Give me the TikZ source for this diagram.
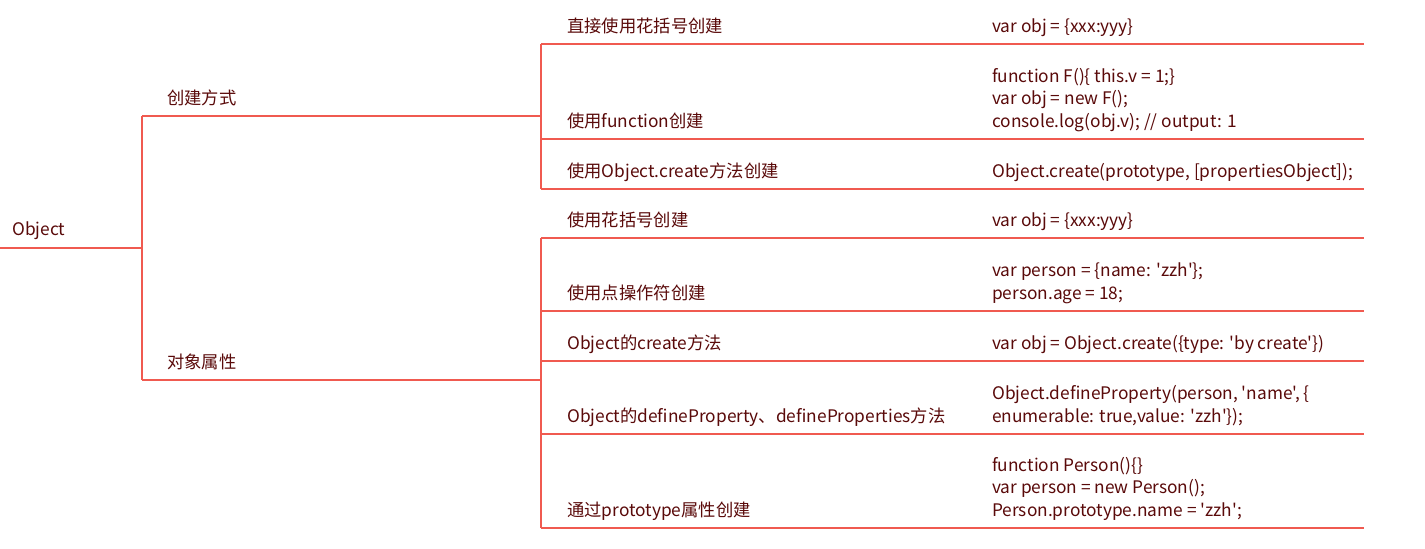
\documentclass[tikz,border=0pt]{standalone}
\usepackage{fontspec}
\setmainfont{Noto Sans CJK SC}[Ligatures=TeXOff]
\definecolor{linec}{HTML}{F05A50}
\definecolor{txtc}{HTML}{5A0A0A}
\begin{document}
\begin{tikzpicture}[x=1pt,y=-1pt,
  lbl/.style={anchor=base west,inner sep=0pt,text=txtc,font=\fontsize{17.3}{22.5}\selectfont},
  conn/.style={draw=linec,line width=1.2pt}]
\useasboundingbox[fill=white] (0,0) rectangle (1425,549);
% root
\node[lbl] (obj) at (12,235) {Object};
\coordinate (r0) at (0,248);
\coordinate (r1) at (142,248);
% level 1
\coordinate (a0) at (142,116);
\coordinate (a1) at (541,116);
\coordinate (b0) at (142,380);
\coordinate (b1) at (541,380);
\node[lbl] (ca) at (167,104) {创建方式};
\node[lbl] (cb) at (167,368) {对象属性};
% level 2 endpoints
\foreach \n/\y in {c1/44,c2/139,c3/189,d1/238,d2/311,d3/361,d4/434,d5/528}{
  \coordinate (\n s) at (541,\y);
  \coordinate (\n e) at (1364,\y);
}
% labels
\node[lbl] (t1) at (567,32) {直接使用花括号创建};
\node[lbl] (t2) at (567,127) {使用function创建};
\node[lbl] (t3) at (567,177) {使用Object.create方法创建};
\node[lbl] (t4) at (567,226) {使用花括号创建};
\node[lbl] (t5) at (567,299) {使用点操作符创建};
\node[lbl] (t6) at (567,349) {Object的create方法};
\node[lbl] (t7) at (567,422) {Object的defineProperty、defineProperties方法};
\node[lbl] (t8) at (567,516) {通过prototype属性创建};
% code
\node[lbl] (k1) at (992,32) {var obj = \{xxx:yyy\}};
\node[lbl] (k2a) at (992,82) {function F()\{ this.v = 1;\}};
\node[lbl] (k2b) at (992,104.5) {var obj = new F();};
\node[lbl] (k2c) at (992,127) {console.log(obj.v); // output: 1};
\node[lbl] (k3) at (992,177) {Object.create(prototype, [propertiesObject]);};
\node[lbl] (k4) at (992,226) {var obj = \{xxx:yyy\}};
\node[lbl] (k5a) at (992,276.5) {var person = \{name: 'zzh'\};};
\node[lbl] (k5b) at (992,299) {person.age = 18;};
\node[lbl] (k6) at (992,349) {var obj = Object.create(\{type: 'by create'\})};
\node[lbl] (k7a) at (992,399.5) {Object.defineProperty(person, 'name', \{};
\node[lbl] (k7b) at (992,422) {enumerable: true,value: 'zzh'\});};
\node[lbl] (k8a) at (992,471) {function Person()\{\}};
\node[lbl] (k8b) at (992,493.5) {var person = new Person();};
\node[lbl] (k8c) at (992,516) {Person.prototype.name = 'zzh';};
% connectors
\draw[conn] (r0) -- (r1);
\draw[conn] (a0) -- (b0);
\draw[conn] (a0) -- (a1);
\draw[conn] (b0) -- (b1);
\draw[conn] (c1s) -- (c3s);
\draw[conn] (d1s) -- (d5s);
\foreach \n in {c1,c2,c3,d1,d2,d3,d4,d5}{
  \draw[conn] (\n s) -- (\n e);
}
\end{tikzpicture}
\end{document}
